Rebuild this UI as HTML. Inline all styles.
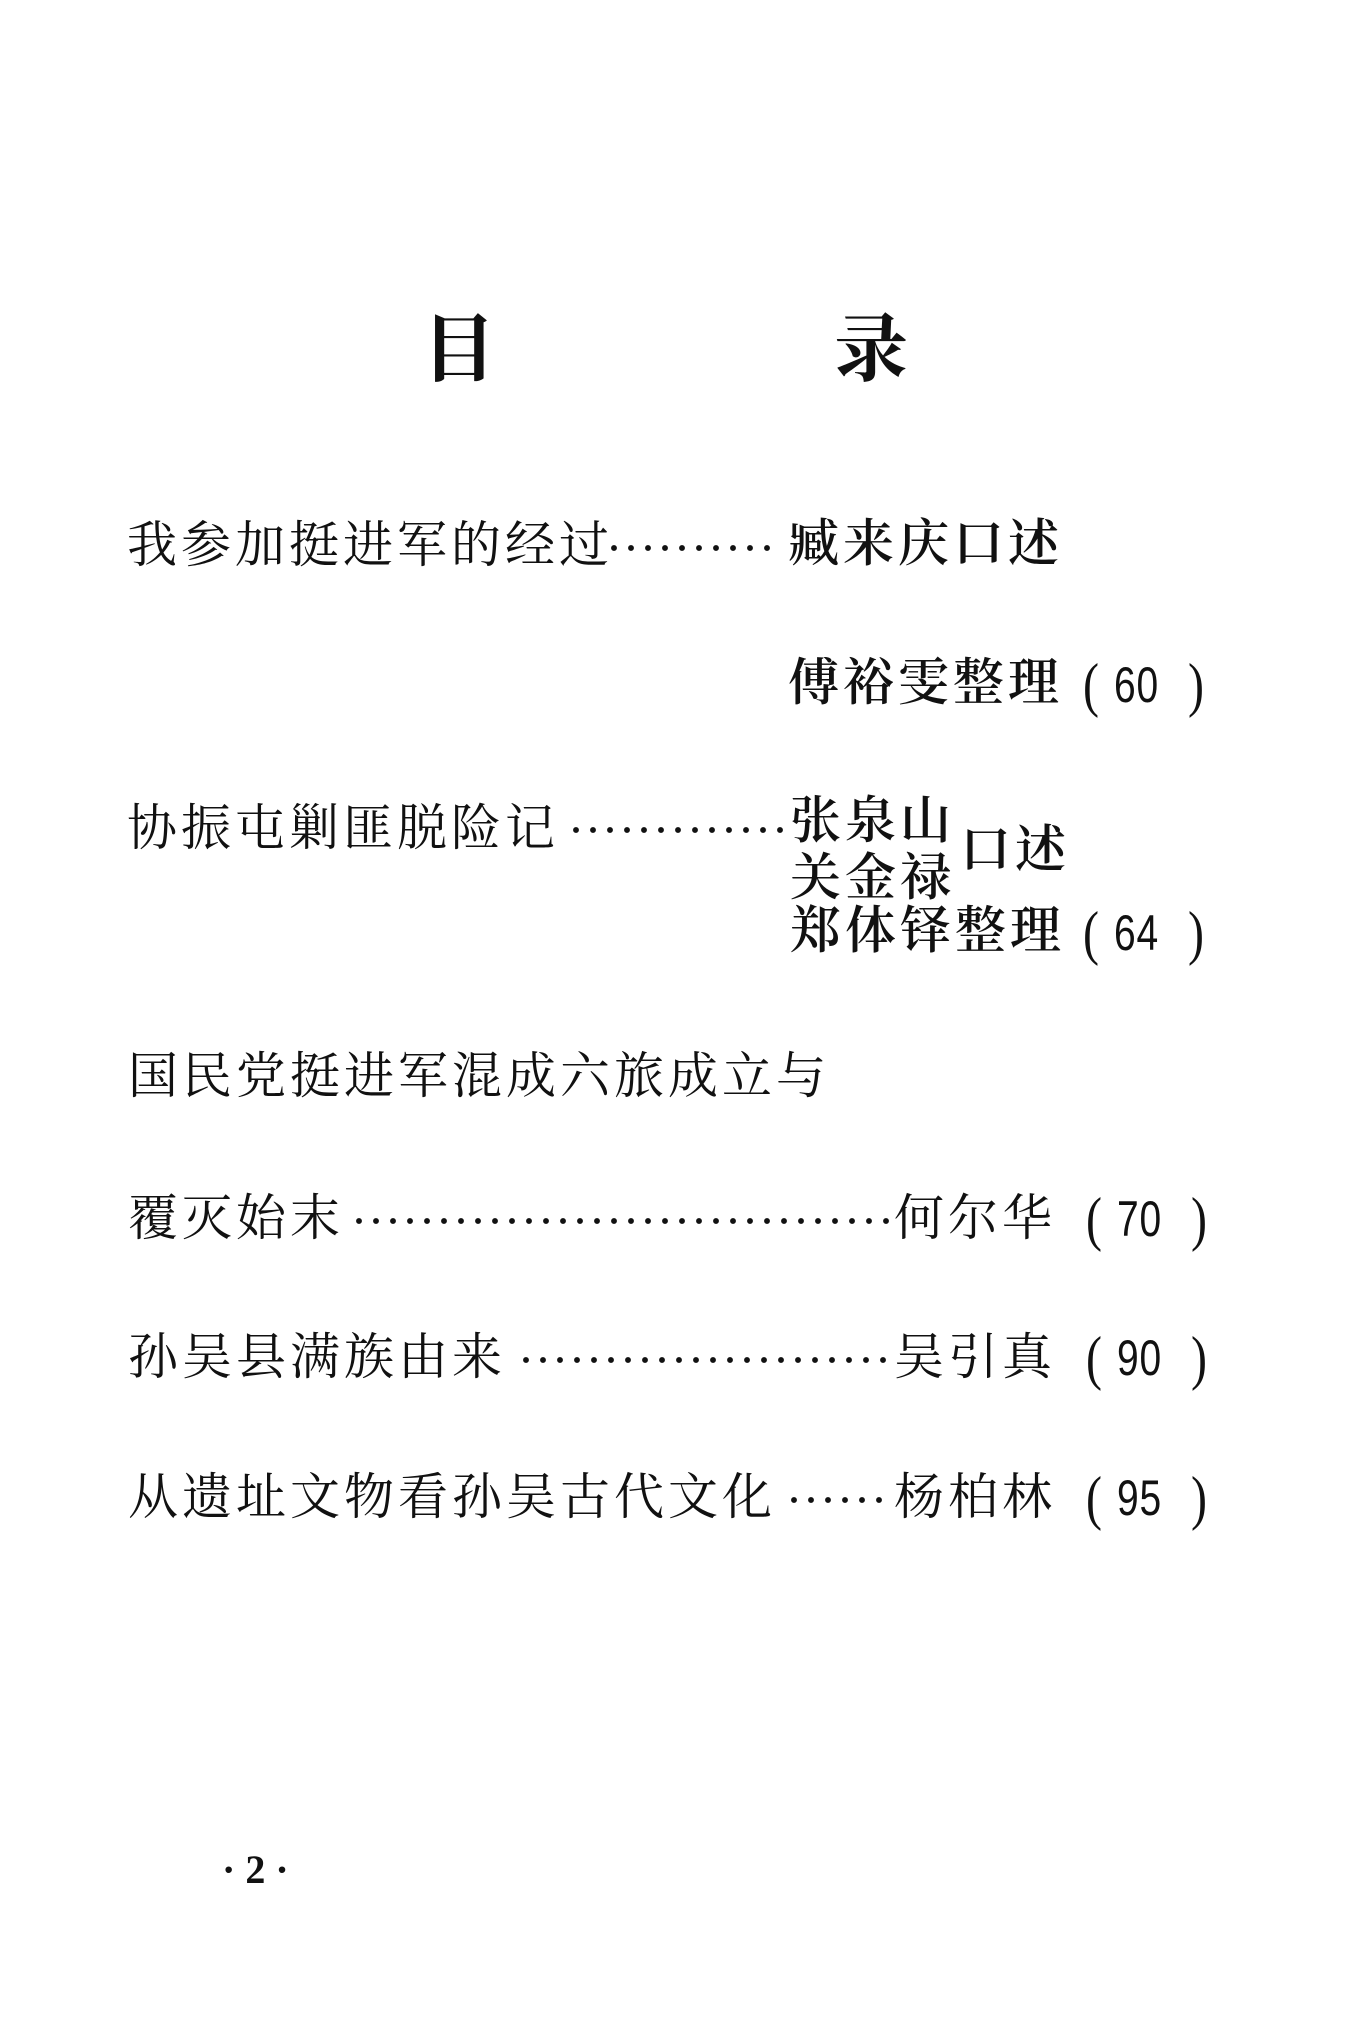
<!DOCTYPE html>
<html><head><meta charset="utf-8"><style>
html,body{margin:0;padding:0;background:#fff;}
body{width:1351px;height:2040px;position:relative;overflow:hidden;font-family:"Liberation Serif","Noto Serif CJK SC",serif;color:#111;}
.t{position:absolute;font-size:50px;line-height:50px;letter-spacing:4px;white-space:nowrap;}
.a{position:absolute;font-size:51px;line-height:51px;letter-spacing:4px;white-space:nowrap;font-weight:600;}
.d{position:absolute;height:8px;background:radial-gradient(circle at 4px 4px,#111 2.6px,transparent 3.2px) 0 0/17px 8px repeat-x;}
.pr{position:absolute;font-family:"Liberation Serif",serif;font-size:60px;line-height:60px;white-space:nowrap;transform:scaleX(0.8);transform-origin:left;}
.n{position:absolute;font-family:"Liberation Sans",sans-serif;font-size:50px;line-height:60px;white-space:nowrap;transform:scaleX(0.78);transform-origin:left;letter-spacing:1px;}
.h{position:absolute;font-size:74px;line-height:74px;font-weight:bold;}
</style></head><body>
<div class="h" style="left:422px;top:314px;">目</div>
<div class="h" style="left:834px;top:314px;">录</div>

<div class="t" style="left:127px;top:520px;">我参加挺进军的经过</div>
<div class="d" style="left:610px;top:544px;width:170px;"></div>
<div class="a" style="left:788px;top:520px;">臧来庆口述</div>

<div class="a" style="left:788px;top:659px;">傅裕雯整理</div>
<div class="pr" style="left:1083px;top:655px;">(</div><div class="n" style="left:1114px;top:655px;">60</div><div class="pr" style="left:1188px;top:655px;">)</div>

<div class="t" style="left:127px;top:803px;">协振屯剿匪脱险记</div>
<div class="d" style="left:572px;top:826px;width:212px;"></div>
<div class="a" style="left:790px;top:797px;">张泉山</div>
<div class="a" style="left:790px;top:854px;">关金禄</div>
<div class="a" style="left:960px;top:826px;">口述</div>
<div class="a" style="left:790px;top:907px;">郑体铎整理</div>
<div class="pr" style="left:1083px;top:903px;">(</div><div class="n" style="left:1114px;top:903px;">64</div><div class="pr" style="left:1188px;top:903px;">)</div>

<div class="t" style="left:128px;top:1051px;">国民党挺进军混成六旅成立与</div>

<div class="t" style="left:128px;top:1193px;">覆灭始末</div>
<div class="d" style="left:355px;top:1217px;width:535px;"></div>
<div class="t" style="left:894px;top:1193px;">何尔华</div>
<div class="pr" style="left:1086px;top:1189px;">(</div><div class="n" style="left:1117px;top:1189px;">70</div><div class="pr" style="left:1191px;top:1189px;">)</div>

<div class="t" style="left:128px;top:1332px;">孙吴县满族由来</div>
<div class="d" style="left:522px;top:1356px;width:368px;"></div>
<div class="t" style="left:894px;top:1332px;">吴引真</div>
<div class="pr" style="left:1086px;top:1328px;">(</div><div class="n" style="left:1117px;top:1328px;">90</div><div class="pr" style="left:1191px;top:1328px;">)</div>

<div class="t" style="left:128px;top:1472px;">从遗址文物看孙吴古代文化</div>
<div class="d" style="left:790px;top:1496px;width:100px;"></div>
<div class="t" style="left:894px;top:1472px;">杨柏林</div>
<div class="pr" style="left:1086px;top:1468px;">(</div><div class="n" style="left:1117px;top:1468px;">95</div><div class="pr" style="left:1191px;top:1468px;">)</div>

<div style="position:absolute;left:222px;top:1845px;font-family:'Liberation Serif',serif;font-weight:bold;font-size:40px;line-height:50px;">·&nbsp;2&nbsp;·</div>
</body></html>
